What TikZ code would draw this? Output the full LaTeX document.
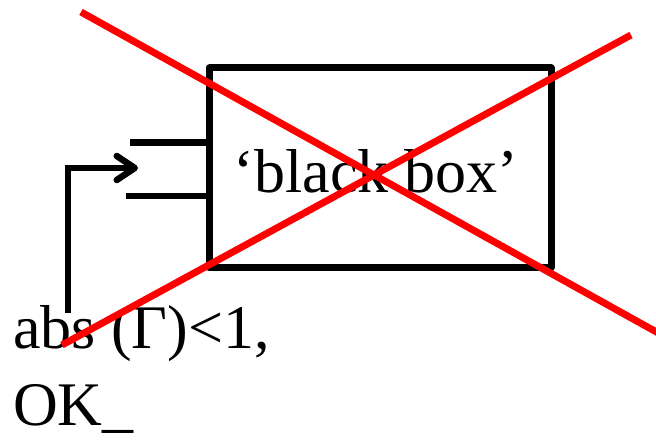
\documentclass[tikz,border=0pt]{standalone}
\usepackage{fontspec}
\setmainfont{Liberation Serif}
\usetikzlibrary{arrows.meta}
\begin{document}
\begin{tikzpicture}[x=1pt,y=-1pt,
  blk/.style={line width=7pt},
  wire/.style={line width=6.5pt},
  cross/.style={red, line width=7pt},
  lbl/.style={font=\fontsize{62}{74}\selectfont, inner sep=0pt, outer sep=0pt}]
\useasboundingbox (0,0) rectangle (656,443);
\node[blk, draw, line join=round, minimum width=342pt, minimum height=200pt, inner sep=0pt] (box) at (380,168) {};
\node[lbl, anchor=base] (bb) at (376,193) {‘black box’};
\coordinate (p1) at (130,142.5);
\coordinate (p2) at (126,196);
\draw[wire] (p1) -- (p1 -| box.west);
\draw[wire] (p2) -- (p2 -| box.west);
\node[lbl, anchor=base west] (t1) at (13,349) {abs (Γ)<1,};
\node[lbl, anchor=base west] (t2) at (13,425) {OK\_};
\coordinate (a0) at (68,313);
\coordinate (tip) at (138,168);
\draw[wire, -{Straight Barb[length=18pt, width=24pt, line cap=round, line join=round]}] (a0) |- (tip);
\draw[cross] (81,12) -- (660,334);
\draw[cross] (62,345) -- (631,35);
\end{tikzpicture}
\end{document}
